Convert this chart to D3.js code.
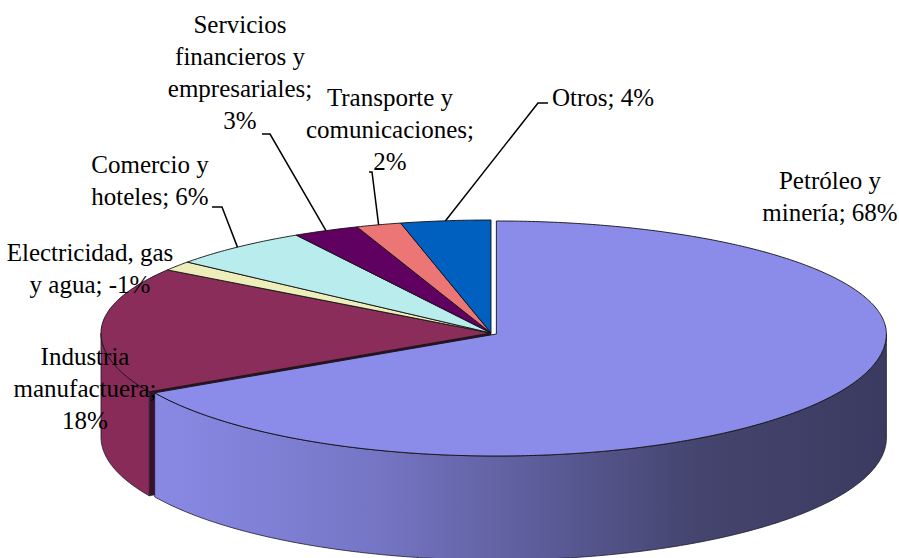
<!DOCTYPE html>
<html>
<head>
<meta charset="utf-8">
<script src="https://cdn.jsdelivr.net/npm/d3@7"></script>
<style>
  body { margin: 0; background: #fff; }
</style>
</head>
<body>
<div id="chart"></div>
<script>
// sector shares (signed, the pie uses the absolute value)
const categories = ["Petróleo y minería", "Industria manufactuera", "Electricidad, gas y agua",
  "Comercio y hoteles", "Servicios financieros y empresariales", "Transporte y comunicaciones", "Otros"];
const values = [0.684, 0.178, -0.014, 0.060, 0.028, 0.019, 0.038];
const exploded = [true, false, false, false, false, false, false];
// words per label line
const labelWords = [[2, 2], [1, 1, 1], [2, 3], [2, 2], [1, 2, 1, 1], [2, 1, 1], [2]];

const topColors = ["#8b8bea", "#8b2d5b", "#eeeebb", "#b9ecec", "#600060", "#ec7676", "#0060bf"];
const wallColors = ["url(#gradPetro)", "#892b59", "#d8d8a8", "#a6d6d6", "#500050", "#d46a6a", "#0054a8"];

// label layout: x, first line y, anchor, leader start (optional)
const labelLayout = [
  { x: 830, y: 180, anchor: "middle" },
  { x: 85, y: 356, anchor: "middle" },
  { x: 90, y: 252, anchor: "middle" },
  { x: 150, y: 164, anchor: "middle", lead: [[212, 207], [222, 207]] },
  { x: 240, y: 24, anchor: "middle", lead: [[262, 134], [270, 134]] },
  { x: 390, y: 97, anchor: "middle", lead: [[369, 172], [372, 172]] },
  { x: 552, y: 97, anchor: "start", lead: [[548, 103], [538, 103]] }
];

const width = 899, height = 558;
const cx = 491, cy = 333, rx = 390, ryBack = 113, ryFront = 122, depth = 104;
const explode = 0.016;
const lineH = 32;
const fontFamily = "'Liberation Serif', 'DejaVu Serif', 'Times New Roman', serif";

const svg = d3.select("#chart").append("svg")
  .attr("width", width)
  .attr("height", height);

svg.append("rect").attr("width", width).attr("height", height).attr("fill", "#fff");

const grad = svg.append("defs").append("linearGradient")
  .attr("id", "gradPetro")
  .attr("gradientUnits", "userSpaceOnUse")
  .attr("x1", 150).attr("x2", 885).attr("y1", 0).attr("y2", 0);
[[0, "#8a8ae6"], [0.3, "#7676c6"], [0.55, "#5a5a96"], [0.75, "#44446e"], [1, "#3b3b61"]]
  .forEach(s => grad.append("stop").attr("offset", s[0]).attr("stop-color", s[1]));

const pie = d3.pie().value(d => Math.abs(d)).sort(null).startAngle(0).endAngle(2 * Math.PI);
const arcs = pie(values);

function pt(a, off, z) {
  const ry = Math.cos(a) > 0 ? ryBack : ryFront;
  return [cx + off[0] + rx * Math.sin(a), cy + off[1] - ry * Math.cos(a) + z];
}
function arcPts(a0, a1, off, z) {
  const n = Math.max(2, Math.ceil((a1 - a0) / 0.01));
  return d3.range(n + 1).map(i => pt(a0 + (a1 - a0) * i / n, off, z));
}
function offsetOf(d, i) {
  if (!exploded[i]) return [0, 0];
  const mid = (d.startAngle + d.endAngle) / 2;
  const ry = Math.cos(mid) > 0 ? ryBack : ryFront;
  return [explode * rx * Math.sin(mid), -explode * ry * Math.cos(mid)];
}
const line = d3.line();

const slices = arcs.map((d, i) => ({ d, i, off: offsetOf(d, i) }));

// radial cut faces that show through the gap of the exploded slice
slices.forEach(s => {
  if (exploded[s.i]) return;
  const prev = slices[(s.i - 1 + slices.length) % slices.length];
  if (!exploded[prev.i]) return;
  const a = s.d.startAngle;
  if (a < Math.PI / 2 || a > 3 * Math.PI / 2) return;
  const c = [cx + s.off[0], cy + s.off[1]];
  const e = pt(a, s.off, 0);
  svg.append("path")
    .attr("d", line([c, e, [e[0], e[1] + depth], [c[0], c[1] + depth]]) + "Z")
    .attr("fill", "#3a1227")
    .attr("stroke", "#111")
    .attr("stroke-width", 0.6);
});

// outer walls (front half only)
slices.slice().sort((a, b) => (exploded[a.i] ? 1 : 0) - (exploded[b.i] ? 1 : 0)).forEach(s => {
  const lo = Math.max(s.d.startAngle, Math.PI / 2);
  const hi = Math.min(s.d.endAngle, 3 * Math.PI / 2);
  if (lo >= hi) return;
  const pts = arcPts(lo, hi, s.off, 0).concat(arcPts(lo, hi, s.off, depth).reverse());
  svg.append("path")
    .attr("d", line(pts) + "Z")
    .attr("fill", wallColors[s.i])
    .attr("stroke", "#1a1a2a")
    .attr("stroke-width", 0.8)
    .attr("stroke-linejoin", "round");
});

// tops
slices.forEach(s => {
  const c = [cx + s.off[0], cy + s.off[1]];
  const pts = [c].concat(arcPts(s.d.startAngle, s.d.endAngle, s.off, 0));
  svg.append("path")
    .attr("d", line(pts) + "Z")
    .attr("fill", topColors[s.i])
    .attr("stroke", "#111")
    .attr("stroke-width", 0.9)
    .attr("stroke-linejoin", "round");
});

// leader lines
slices.forEach(s => {
  const L = labelLayout[s.i];
  if (!L.lead) return;
  const mid = (s.d.startAngle + s.d.endAngle) / 2;
  const end = pt(mid, s.off, 0);
  svg.append("path")
    .attr("d", line(L.lead.concat([end])))
    .attr("fill", "none")
    .attr("stroke", "#000")
    .attr("stroke-width", 1.5);
});

// labels
const fmt = v => d3.format(".0%")(v).replace("\u2212", "-");
categories.forEach((cat, i) => {
  const words = (cat + "; " + fmt(values[i])).split(" ");
  const lines = [];
  let k = 0;
  labelWords[i].forEach(n => { lines.push(words.slice(k, k + n).join(" ")); k += n; });
  const L = labelLayout[i];
  const t = svg.append("text")
    .style("font-family", fontFamily)
    .style("font-size", "25px")
    .attr("fill", "#000")
    .attr("text-anchor", L.anchor)
    .attr("dominant-baseline", "central");
  lines.forEach((ln, j) => {
    t.append("tspan").attr("x", L.x).attr("y", L.y + j * lineH).text(ln);
  });
});
</script>
</body>
</html>
